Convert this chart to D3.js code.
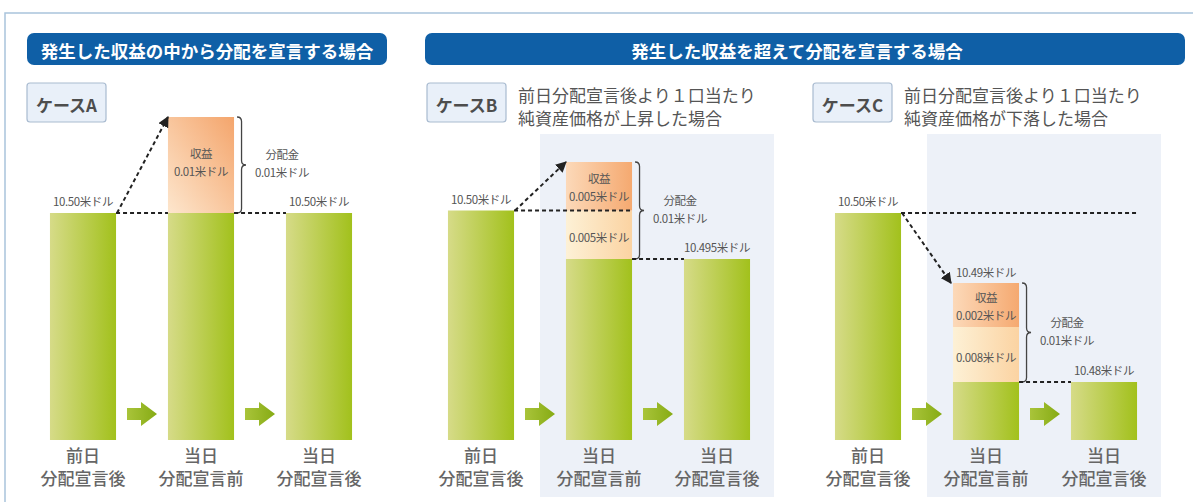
<!DOCTYPE html>
<html>
<head>
<meta charset="utf-8">
<script src="https://cdn.jsdelivr.net/npm/d3@7"></script>
<style>
  body { margin: 0; background: #fff; }
  svg { display: block; font-family: "Noto Sans CJK JP", "Noto Sans", sans-serif; }
</style>
</head>
<body>
<div id="chart"></div>
<script>
// ---- data ----
var headers = ["発生した収益の中から分配を宣言する場合", "発生した収益を超えて分配を宣言する場合"];
var caseNames = ["ケースA", "ケースB", "ケースC"];
var caseNotes = [[], ["前日分配宣言後より１口当たり", "純資産価格が上昇した場合"], ["前日分配宣言後より１口当たり", "純資産価格が下落した場合"]];
var stageTop = ["前日", "当日", "当日"];
var stageBottom = ["分配宣言後", "分配宣言前", "分配宣言後"];
var navPrev = [10.50, 10.50, 10.50];      // 前日 分配宣言後
var navAfter = [10.50, 10.495, 10.48];    // 当日 分配宣言後
var income = [0.01, 0.005, 0.002];        // 収益
var fromCapital = [0, 0.005, 0.008];      // 収益を超える部分
var dividend = [0.01, 0.01, 0.01];        // 分配金
var showPreLabel = [false, false, true];

var W = 1193, H = 502;
var svg = d3.select("#chart").append("svg").attr("width", W).attr("height", H);
var defs = svg.append("defs");

function grad(id, stops, x2, y2) {
    var g = defs.append("linearGradient").attr("id", id)
        .attr("x1", 0).attr("y1", y2 ? 1 : 0).attr("x2", x2).attr("y2", 0);
    stops.forEach(function(s) { g.append("stop").attr("offset", s[0]).attr("stop-color", s[1]); });
}
grad("bar", [[0, "#d6db88"], [1, "#a2c11c"]], 1, 0);
grad("arrowG", [[0, "#a9c43a"], [1, "#86ab14"]], 1, 0);
grad("incA", [[0, "#fde6cd"], [1, "#f4a56c"]], 1, 1);
grad("inc", [[0, "#fcd9b9"], [1, "#f5a970"]], 1, 0);
grad("cap", [[0, "#fdf1d6"], [1, "#fbd3a2"]], 1, 0);

defs.append("marker").attr("id", "head")
    .attr("viewBox", "0 0 10 10").attr("refX", 9).attr("refY", 5)
    .attr("markerWidth", 11).attr("markerHeight", 11)
    .attr("markerUnits", "userSpaceOnUse").attr("orient", "auto")
    .append("path").attr("d", "M0,0 L10,5 L0,10 Z").attr("fill", "#222");

// frame
svg.append("path").attr("d", "M5," + H + " L5,13 L" + W + ",13")
    .attr("fill", "none").attr("stroke", "#a9c4dc").attr("stroke-width", 1.5);

// headers
var headerBoxes = [[27, 387], [425, 1185]];
headers.forEach(function(t, i) {
    var b = headerBoxes[i];
    svg.append("rect").attr("x", b[0]).attr("y", 33).attr("width", b[1] - b[0]).attr("height", 32)
        .attr("rx", 7).attr("fill", "#0f5fa6");
    svg.append("text").attr("x", (b[0] + b[1]) / 2 - (i ? 8 : 0)).attr("y", 50)
        .attr("text-anchor", "middle").attr("dominant-baseline", "central")
        .attr("fill", "#fff").attr("font-weight", 700).attr("font-size", 17.5).text(t);
});

var baseY = 440;
var layout = [
    { start: 24, y: d3.scaleLinear().domain([10.50, 10.51]).range([213, 117]) },
    { start: 422, y: d3.scaleLinear().domain([10.495, 10.505]).range([259, 162]) },
    { start: 809, y: d3.scaleLinear().domain([10.48, 10.488, 10.49, 10.50]).range([382, 327, 283, 213]) }
];
var fmt = function(v) { return v.toFixed(3).replace(/0$/, "") + "米ドル"; };

function bracePath(x, y1, y2, w) {
    var ym = (y1 + y2) / 2, q = w / 2;
    return "M" + x + "," + y1 + " Q" + (x + q) + "," + y1 + " " + (x + q) + "," + (y1 + q) +
        " L" + (x + q) + "," + (ym - q) + " Q" + (x + q) + "," + ym + " " + (x + w) + "," + ym +
        " Q" + (x + q) + "," + ym + " " + (x + q) + "," + (ym + q) +
        " L" + (x + q) + "," + (y2 - q) + " Q" + (x + q) + "," + y2 + " " + x + "," + y2;
}

function smallText(g, x, y, t) {
    g.append("text").attr("x", x).attr("y", y).attr("text-anchor", "middle")
        .attr("dominant-baseline", "central").attr("font-size", 11.5)
        .attr("letter-spacing", -0.4).attr("fill", "#555").text(t);
}

function dashed(g, x1, y1, x2, y2, arrow) {
    var l = g.append("line").attr("x1", x1).attr("y1", y1).attr("x2", x2).attr("y2", y2)
        .attr("stroke", "#222").attr("stroke-width", 2).attr("stroke-dasharray", "4,3");
    if (arrow) l.attr("marker-end", "url(#head)");
}

caseNames.forEach(function(name, c) {
    var g = svg.append("g");
    var L = layout[c], y = L.y;
    var x = d3.scaleBand().domain([0, 1, 2]).range([L.start, L.start + 354])
        .paddingInner(0.44).paddingOuter(0.22);
    var bw = x.bandwidth();

    // shaded panel for the cases beyond income
    if (c > 0) {
        g.append("rect").attr("x", x(1) - 26).attr("y", 134)
            .attr("width", x(2) + bw + 24 - (x(1) - 26)).attr("height", 497 - 134)
            .attr("fill", "#edf1f8");
    }

    // case label box + note
    var bx = [27, 427, 813][c];
    g.append("rect").attr("x", bx).attr("y", 83).attr("width", 79).attr("height", 39)
        .attr("rx", 3).attr("fill", "#e9f0f9").attr("stroke", "#a9bbd0").attr("stroke-width", 1.2);
    g.append("text").attr("x", bx + 39.5).attr("y", 104).attr("text-anchor", "middle")
        .attr("dominant-baseline", "central").attr("font-weight", 700).attr("font-size", 17)
        .attr("fill", "#4d4d4d").text(name);
    caseNotes[c].forEach(function(t, k) {
        g.append("text").attr("x", bx + 91).attr("y", 94 + k * 23).attr("dominant-baseline", "central")
            .attr("font-size", 17).attr("fill", "#555").text(t);
    });

    // bars (green part)
    var vals = [navPrev[c], navAfter[c], navAfter[c]];
    g.selectAll("rect.bar").data(vals).enter().append("rect").attr("class", "bar")
        .attr("x", function(d, i) { return x(i); })
        .attr("y", function(d) { return y(d); })
        .attr("width", bw)
        .attr("height", function(d) { return baseY - y(d); })
        .attr("fill", "url(#bar)");

    // distribution box on bar 2
    var capTop = navAfter[c] + fromCapital[c];
    var incTop = capTop + income[c];
    if (fromCapital[c] > 0) {
        g.append("rect").attr("x", x(1)).attr("y", y(capTop)).attr("width", bw)
            .attr("height", y(navAfter[c]) - y(capTop)).attr("fill", "url(#cap)");
        smallText(g, x(1) + bw / 2, (y(capTop) + y(navAfter[c])) / 2 + 2, fmt(fromCapital[c]));
    }
    g.append("rect").attr("x", x(1)).attr("y", y(incTop)).attr("width", bw)
        .attr("height", y(capTop) - y(incTop)).attr("fill", c === 0 ? "url(#incA)" : "url(#inc)");
    var im = (y(capTop) + y(incTop)) / 2;
    var shift = c === 0 ? -3 : 1;
    smallText(g, x(1) + bw / 2, im - 9 + shift, "収益");
    smallText(g, x(1) + bw / 2, im + 9 + shift, fmt(income[c]));

    // brace + dividend label
    var bt = y(incTop), bb = y(navAfter[c]);
    g.append("path").attr("d", bracePath(x(1) + bw + 3, bt, bb, 9))
        .attr("fill", "none").attr("stroke", "#444").attr("stroke-width", 1.3);
    var bm = (bt + bb) / 2;
    smallText(g, x(1) + bw + 48, bm - 11, "分配金");
    smallText(g, x(1) + bw + 48, bm + 7, fmt(dividend[c]));

    // dashed guide lines
    var yPrev = y(navPrev[c]);
    if (c === 0) {
        dashed(g, x(0) + bw, yPrev, x(1), yPrev);
        dashed(g, x(1) + bw, yPrev, x(2), yPrev);
    } else if (c === 1) {
        dashed(g, x(0) + bw, yPrev, x(1) + bw, yPrev);
    } else {
        dashed(g, x(0) + bw, yPrev, x(2) + bw, yPrev);
    }
    if (navAfter[c] !== navPrev[c]) {
        dashed(g, x(1) + bw, y(navAfter[c]), x(2), y(navAfter[c]));
    }
    var tipX = x(1) - (c === 2 ? 2 : 0);
    dashed(g, x(0) + bw + 1, yPrev, tipX, y(incTop), true);

    // value labels
    smallText(g, x(0) + bw / 2, y(navPrev[c]) - 12, fmt(navPrev[c]));
    smallText(g, x(2) + bw / 2, y(navAfter[c]) - 12, fmt(navAfter[c]));
    if (showPreLabel[c]) smallText(g, x(1) + bw / 2, y(incTop) - 11, fmt(incTop));

    // block arrows between bars
    [0, 1].forEach(function(i) {
        var cx = (x(i) + bw + x(i + 1)) / 2, cy = 414;
        var ax = cx - 15;
        g.append("path").attr("d",
            "M" + ax + "," + (cy - 6) + " L" + (ax + 14) + "," + (cy - 6) + " L" + (ax + 14) + "," + (cy - 12) +
            " L" + (ax + 30) + "," + cy + " L" + (ax + 14) + "," + (cy + 12) + " L" + (ax + 14) + "," + (cy + 6) +
            " L" + ax + "," + (cy + 6) + " Z").attr("fill", "url(#arrowG)");
    });

    // stage labels
    [0, 1, 2].forEach(function(i) {
        g.append("text").attr("x", x(i) + bw / 2).attr("y", 454).attr("text-anchor", "middle")
            .attr("dominant-baseline", "central").attr("font-size", 17).attr("font-weight", 500)
            .attr("fill", "#666").text(stageTop[i]);
        g.append("text").attr("x", x(i) + bw / 2).attr("y", 477).attr("text-anchor", "middle")
            .attr("dominant-baseline", "central").attr("font-size", 17).attr("font-weight", 500)
            .attr("fill", "#666").text(stageBottom[i]);
    });
});
</script>
</body>
</html>
